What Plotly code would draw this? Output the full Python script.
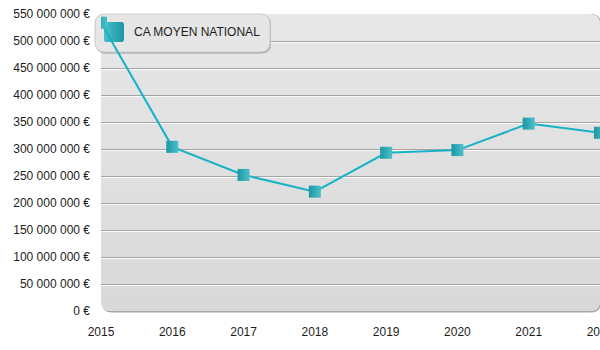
import plotly.graph_objects as go

# ---- data -------------------------------------------------------------
years = [2015, 2016, 2017, 2018, 2019, 2020, 2021, 2022]
ca_moyen_national = [534e6, 304e6, 252e6, 221e6, 293e6, 298e6, 347e6, 330e6]
series_name = "CA MOYEN NATIONAL"

y_tick_values = [0, 50e6, 100e6, 150e6, 200e6, 250e6, 300e6,
                 350e6, 400e6, 450e6, 500e6, 550e6]
y_tick_labels = ["0 €", "50 000 000 €", "100 000 000 €", "150 000 000 €",
                 "200 000 000 €", "250 000 000 €", "300 000 000 €",
                 "350 000 000 €", "400 000 000 €", "450 000 000 €",
                 "500 000 000 €", "550 000 000 €"]
x_tick_labels = ["2015", "2016", "2017", "2018", "2019", "2020", "2021", "2022"]

# ---- geometry / style -------------------------------------------------
W, H = 600, 350
M_L, M_R, M_T, M_B = 101, 0, 14, 39
PW, PH = W - M_L - M_R, H - M_T - M_B
FONT = "Liberation Sans, Arial, Helvetica, sans-serif"
TEXT = "#1c1c1c"
LINE_C = "#17b2c6"
MK_DARK, MK_LIGHT = "#1b97a3", "#4cc0ca"
BG_TOP, BG_BOT = (231, 231, 231), (217, 217, 217)


def rrect(x0, y0, x1, y1, r):
    """Rounded rectangle path; y grows upward (pixel sizing mode)."""
    return (f"M{x0 + r},{y1} L{x1 - r},{y1} Q{x1},{y1} {x1},{y1 - r} "
            f"L{x1},{y0 + r} Q{x1},{y0} {x1 - r},{y0} L{x0 + r},{y0} "
            f"Q{x0},{y0} {x0},{y0 + r} L{x0},{y1 - r} Q{x0},{y1} {x0 + r},{y1} Z")


def rgb(c):
    return "rgb(%d,%d,%d)" % c


def paper_px(path, **kw):
    # shape anchored at the top-left corner of the plot area, sized in pixels
    return dict(type="path", xref="paper", yref="paper", xsizemode="pixel",
                ysizemode="pixel", xanchor=0, yanchor=1, path=path,
                layer="below", **kw)


def data_px(path, **kw):
    # same anchoring, but in data space so it sits above the grid lines
    return dict(type="path", xref="x", yref="y", xsizemode="pixel",
                ysizemode="pixel", xanchor=years[0], yanchor=y_tick_values[-1],
                path=path, layer="between", **kw)


shapes = []

# plot area: soft shadow, rounded panel, vertical gradient
shapes.append(paper_px(rrect(1, -PH - 1.5, PW + 1, 0, 10),
                       fillcolor="#a8a8a8", line=dict(width=0)))
shapes.append(paper_px(rrect(0, -PH, PW, 0, 10),
                       fillcolor=rgb(BG_TOP), line=dict(width=0)))
shapes.append(paper_px(rrect(0, -PH, PW, -PH / 2, 10),
                       fillcolor=rgb(BG_BOT), line=dict(width=0)))
n_bands = 24
top, bot = 10, PH - 10
for i in range(n_bands):
    t = (i + 0.5) / n_bands
    c = tuple(round(a + (b - a) * t) for a, b in zip(BG_TOP, BG_BOT))
    ya = -(top + (bot - top) * i / n_bands)
    yb = -(top + (bot - top) * (i + 1) / n_bands)
    shapes.append(dict(type="rect", xref="paper", yref="paper", x0=0, x1=1,
                       ysizemode="pixel", yanchor=1, y0=yb - 0.3, y1=ya,
                       fillcolor=rgb(c), line=dict(width=0), layer="below"))

# embossed grid lines: a grey rule with a white highlight underneath
for v in y_tick_values[1:-1]:
    shapes.append(dict(type="line", xref="x", yref="y", x0=years[0], x1=years[-1],
                       ysizemode="pixel", yanchor=v, y0=-0.5, y1=-0.5,
                       line=dict(color="#a4a4a4", width=1), layer="between"))
    shapes.append(dict(type="line", xref="x", yref="y", x0=years[0], x1=years[-1],
                       ysizemode="pixel", yanchor=v, y0=-1.5, y1=-1.5,
                       line=dict(color="#fbfbfb", width=1), layer="between"))

# legend box (outside part on paper, inside part above the grid)
lg_box = rrect(-6, -38, 169, 0, 10)
lg_shadow = rrect(-5, -39.5, 170, -1, 10)
for mk in (paper_px, data_px):
    shapes.append(mk(lg_shadow, fillcolor="#b3b3b3", line=dict(width=0)))
    shapes.append(mk(lg_box, fillcolor="#e6e6e6",
                     line=dict(color="#cacaca", width=1)))

# legend swatch with a left-to-right shading
sx0, sx1, sy0, sy1 = 3, 23, -28, -8
strips = 10
light = (76, 192, 202)
dark = (27, 151, 163)
shapes.append(data_px(rrect(sx0, sy0, sx1, sy1, 3),
                      fillcolor=rgb(dark), line=dict(width=0)))
for i in range(strips - 1):
    t = (i + 0.5) / strips
    c = tuple(round(a + (b - a) * t) for a, b in zip(light, dark))
    xa = sx0 + (sx1 - sx0) * i / strips
    xb = sx0 + (sx1 - sx0) * (i + 1) / strips + 0.3
    if i == 0:
        p = (f"M{xb},{sy1} L{sx0 + 3},{sy1} Q{sx0},{sy1} {sx0},{sy1 - 3} "
             f"L{sx0},{sy0 + 3} Q{sx0},{sy0} {sx0 + 3},{sy0} L{xb},{sy0} Z")
    else:
        p = f"M{xa},{sy0} L{xb},{sy0} L{xb},{sy1} L{xa},{sy1} Z"
    shapes.append(data_px(p, fillcolor=rgb(c), line=dict(width=0)))

fig = go.Figure()
fig.add_trace(go.Scatter(
    x=years, y=ca_moyen_national, name=series_name, mode="lines+markers",
    line=dict(color=LINE_C, width=2),
    marker=dict(symbol="square", size=12, color=MK_DARK,
                gradient=dict(type="horizontal", color=MK_LIGHT),
                line=dict(width=0)),
    showlegend=False, hoverinfo="x+y",
))

fig.update_layout(
    width=W, height=H,
    margin=dict(l=M_L, r=M_R, t=M_T, b=M_B, pad=0, autoexpand=False),
    paper_bgcolor="white", plot_bgcolor="rgba(0,0,0,0)",
    font=dict(family=FONT, size=12, color=TEXT),
    showlegend=False,
    shapes=shapes,
    annotations=[dict(text=series_name, xref="paper", yref="paper", x=0, y=1,
                      xanchor="left", yanchor="middle", xshift=31, yshift=-18,
                      showarrow=False, font=dict(family=FONT, size=12, color=TEXT))],
    xaxis=dict(range=[years[0], years[-1]], tickvals=years, ticktext=x_tick_labels,
               showgrid=False, zeroline=False, showline=False, ticks="",
               ticklabelstandoff=12, ticklabeloverflow="allow",
               automargin=False, fixedrange=True),
    yaxis=dict(range=[y_tick_values[0], y_tick_values[-1]], tickvals=y_tick_values,
               ticktext=y_tick_labels, showgrid=False, zeroline=False,
               showline=False, ticks="", ticklabelstandoff=10,
               automargin=False, fixedrange=True),
)

fig.write_html("out.html", config={"displayModeBar": False})
